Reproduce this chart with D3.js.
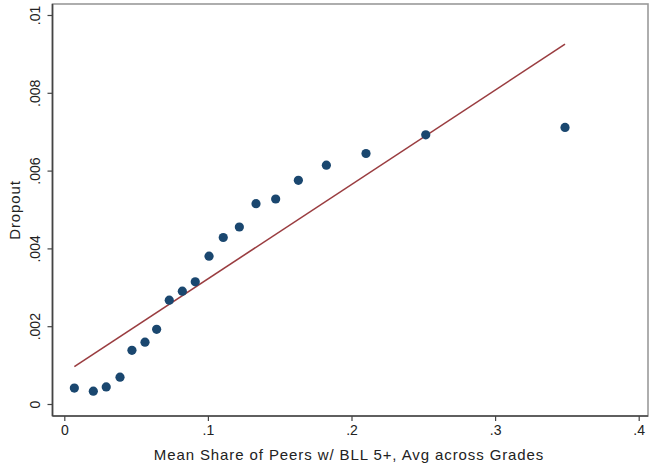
<!DOCTYPE html>
<html>
<head>
<meta charset="utf-8">
<script src="https://cdn.jsdelivr.net/npm/d3@7"></script>
<style>
  body { margin: 0; background: #fff; }
  text { font-family: "Liberation Sans", Arial, sans-serif; fill: #222; }
</style>
</head>
<body>
<div id="chart"></div>
<script>
// binned scatter: mean share of peers with BLL 5+ vs dropout
const peerShare = [0.0070, 0.0202, 0.0292, 0.0388, 0.0471, 0.0562, 0.0643, 0.0731, 0.0822, 0.0912,
                   0.1008, 0.1107, 0.1219, 0.1335, 0.1472, 0.1630, 0.1825, 0.2101, 0.2517, 0.3487];
const dropout = [0.00041, 0.00033, 0.00044, 0.00069, 0.00138, 0.00159, 0.00192, 0.00267, 0.00290, 0.00314,
                 0.00380, 0.00428, 0.00455, 0.00515, 0.00527, 0.00575, 0.00614, 0.00644, 0.00692, 0.00711];

// fitted line endpoints
const fitX = [0.0070, 0.3487];
const fitY = [0.00096, 0.00925];

const xTicks = [0, 0.1, 0.2, 0.3, 0.4];
const xTickLabels = ["0", ".1", ".2", ".3", ".4"];
const yTicks = [0, 0.002, 0.004, 0.006, 0.008, 0.01];
const yTickLabels = ["0", ".002", ".004", ".006", ".008", ".01"];

const W = 649, H = 466;
const frame = { left: 52.5, top: 4, right: 648, bottom: 416 };

const svg = d3.select("#chart").append("svg")
    .attr("width", W)
    .attr("height", H);

const x = d3.scaleLinear().domain([0, 0.4]).range([64.3, 638.7]);
const y = d3.scaleLinear().domain([0, 0.01]).range([404, 15]);

// plot region border (top / right lighter)
svg.append("rect")
    .attr("x", frame.left)
    .attr("y", frame.top)
    .attr("width", frame.right - frame.left)
    .attr("height", frame.bottom - frame.top)
    .attr("fill", "none")
    .attr("stroke", "#9a9a9a")
    .attr("stroke-width", 1.6);

// x axis
const xAxis = svg.append("g")
    .attr("transform", "translate(0," + frame.bottom + ")")
    .call(d3.axisBottom(x)
        .tickValues(xTicks)
        .tickFormat((d, i) => xTickLabels[i])
        .tickSize(5)
        .tickPadding(4)
        .tickSizeOuter(0));
xAxis.select(".domain")
    .attr("d", "M" + frame.left + ",0H" + frame.right)
    .attr("stroke", "#444")
    .attr("stroke-width", 1.6);
xAxis.selectAll(".tick line").attr("stroke", "#444").attr("stroke-width", 1.2);
xAxis.selectAll(".tick text")
    .style("font-size", "14px")
    .style("font-family", "Liberation Sans, Arial, sans-serif")
    .attr("fill", "#222");

// y axis
const yAxis = svg.append("g")
    .attr("transform", "translate(" + frame.left + ",0)")
    .call(d3.axisLeft(y)
        .tickValues(yTicks)
        .tickFormat((d, i) => yTickLabels[i])
        .tickSize(5)
        .tickSizeOuter(0));
yAxis.select(".domain")
    .attr("d", "M0," + frame.top + "V" + frame.bottom)
    .attr("stroke", "#444")
    .attr("stroke-width", 1.6);
yAxis.selectAll(".tick line").attr("stroke", "#444").attr("stroke-width", 1.2);
yAxis.selectAll(".tick text")
    .attr("x", null)
    .attr("dy", null)
    .attr("transform", "translate(-13,0) rotate(-90)")
    .attr("text-anchor", "middle")
    .style("font-size", "14px")
    .style("font-family", "Liberation Sans, Arial, sans-serif")
    .attr("fill", "#222");

// fitted line
svg.append("path")
    .datum(fitX.map((v, i) => [v, fitY[i]]))
    .attr("d", d3.line().x(d => x(d[0])).y(d => y(d[1])))
    .attr("fill", "none")
    .attr("stroke", "#9a3d40")
    .attr("stroke-width", 1.6);

// scatter points
svg.selectAll(".dot")
    .data(peerShare.map((v, i) => [v, dropout[i]]))
    .enter().append("circle")
    .attr("class", "dot")
    .attr("cx", d => x(d[0]))
    .attr("cy", d => y(d[1]))
    .attr("r", 4.6)
    .attr("fill", "#1a476f");

// axis titles
svg.append("text")
    .attr("x", 349)
    .attr("y", 459.5)
    .attr("text-anchor", "middle")
    .style("font-size", "15px")
    .style("letter-spacing", "0.9px")
    .text("Mean Share of Peers w/ BLL 5+, Avg across Grades");

svg.append("text")
    .attr("transform", "translate(20,210) rotate(-90)")
    .attr("text-anchor", "middle")
    .style("font-size", "15px")
    .style("letter-spacing", "0.9px")
    .text("Dropout");
</script>
</body>
</html>
